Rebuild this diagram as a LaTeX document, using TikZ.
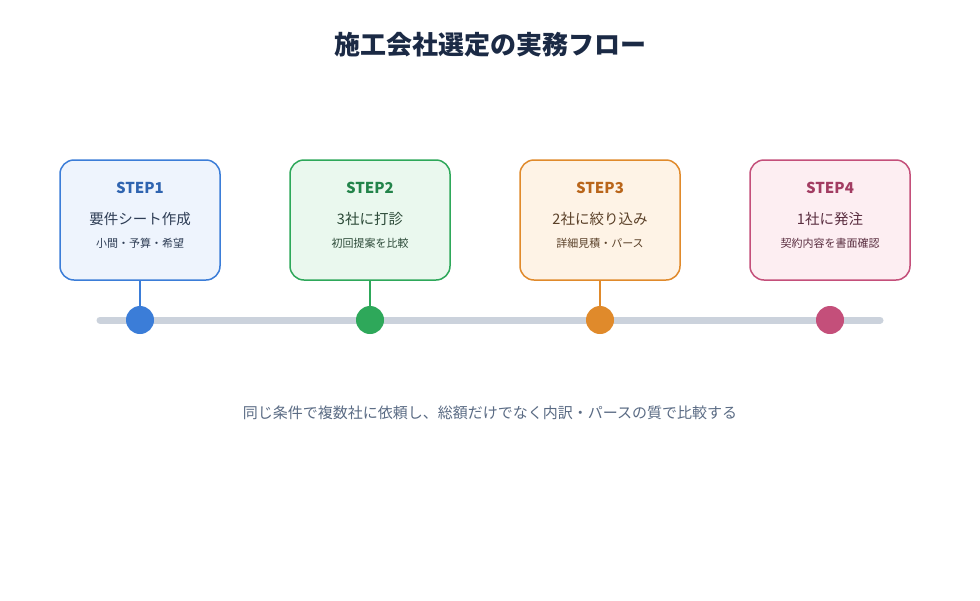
\documentclass[tikz,border=0pt]{standalone}
\usepackage{fontspec}
\setmainfont{Noto Sans CJK JP}
\newfontfamily\cjkb{Noto Sans CJK JP Bold}
\begin{document}
\begin{tikzpicture}[x=1pt,y=-1pt,
  box/.style={draw=#1, line width=1.5pt, rounded corners=14pt, minimum width=160pt, minimum height=120pt},
  dot/.style={circle, fill=#1, minimum size=28pt, inner sep=0pt},
  link/.style={draw=#1, line width=1.5pt},
  stp/.style={font=\bfseries\fontsize{15}{18}\selectfont},
  mn/.style={font=\fontsize{14.5}{17}\selectfont},
  sb/.style={font=\fontsize{11}{13}\selectfont}]
\definecolor{bS}{HTML}{3B7DD8}\definecolor{bF}{HTML}{EEF4FD}\definecolor{bT}{HTML}{2F64B0}\definecolor{bM}{HTML}{2E3D55}
\definecolor{gS}{HTML}{2EA85A}\definecolor{gF}{HTML}{EAF8EE}\definecolor{gT}{HTML}{23844A}\definecolor{gM}{HTML}{2C4A38}
\definecolor{oS}{HTML}{E08A2B}\definecolor{oF}{HTML}{FEF3E6}\definecolor{oT}{HTML}{B9651A}\definecolor{oM}{HTML}{5A4028}
\definecolor{pS}{HTML}{C44F7A}\definecolor{pF}{HTML}{FDEEF2}\definecolor{pT}{HTML}{A23C62}\definecolor{pM}{HTML}{5A2E40}
\definecolor{track}{HTML}{CBD2DC}\definecolor{ttl}{HTML}{1B2A45}\definecolor{foot}{HTML}{5A6B84}
\path[use as bounding box, fill=white] (0,0) rectangle (980,600);
\node[font=\bfseries\fontsize{26}{30}\selectfont, text=ttl] (title) at (490,45) {施工会社選定の実務フロー};
\draw[track, line width=7pt, line cap=round] (100,320) coordinate (ts) -- (880,320) coordinate (te);
\foreach \n/\x/\c/\s/\m/\b in {1/140/b/STEP1/要件シート作成/小間・予算・希望, 2/370/g/STEP2/3社に打診/初回提案を比較, 3/600/o/STEP3/2社に絞り込み/詳細見積・パース, 4/830/p/STEP4/1社に発注/契約内容を書面確認}{
  \node[box=\c S, fill=\c F] (box\n) at (\x,220) {};
  \node[stp, text=\c T] (s\n) at (\x,188) {\s};
  \node[mn, text=\c M] (m\n) at (\x,219) {\m};
  \node[sb, text=\c M] (b\n) at (\x,243) {\b};
  \node[dot=\c S] (d\n) at (\x,320) {};
}
\foreach \n/\c in {1/b,2/g,3/o}{ \draw[link=\c S] (box\n.south) -- (d\n.north); }
\node[font=\fontsize{15}{18}\selectfont, text=foot] (foot) at (490,413) {同じ条件で複数社に依頼し、総額だけでなく内訳・パースの質で比較する};
\end{tikzpicture}
\end{document}
